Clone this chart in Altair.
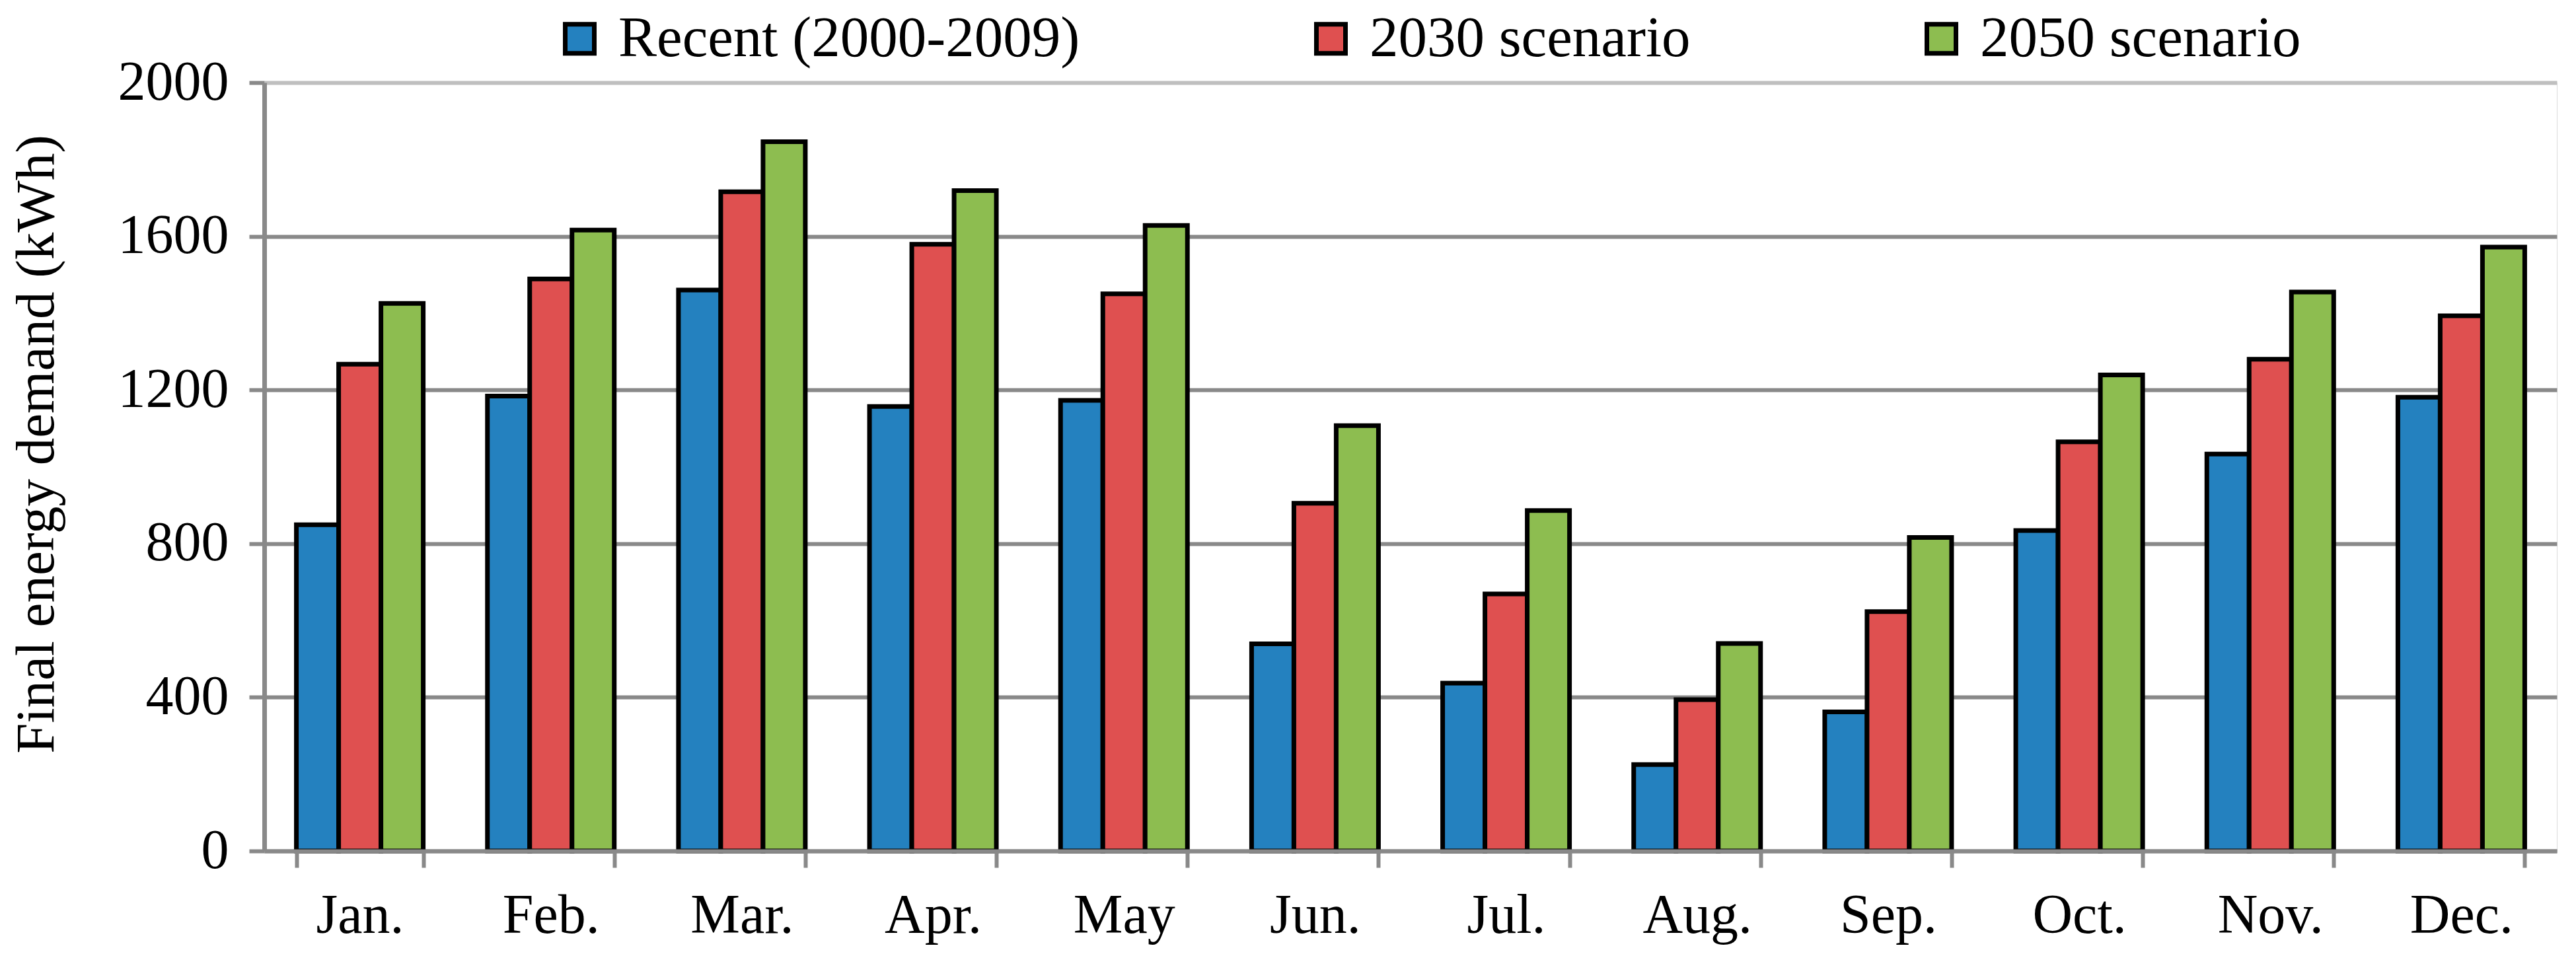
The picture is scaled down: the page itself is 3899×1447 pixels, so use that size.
import altair as alt
import pandas as pd

months = ["Jan.", "Feb.", "Mar.", "Apr.", "May", "Jun.", "Jul.", "Aug.", "Sep.", "Oct.", "Nov.", "Dec."]
series_names = ["Recent (2000-2009)", "2030 scenario", "2050 scenario"]
series_colors = ["#2481BF", "#DF5050", "#8DBD50"]

recent = [849, 1184, 1460, 1157, 1173, 539, 437, 225, 362, 834, 1033, 1181]
s2030 = [1267, 1489, 1716, 1579, 1450, 905, 669, 394, 623, 1065, 1280, 1393]
s2050 = [1425, 1616, 1846, 1719, 1628, 1107, 886, 540, 816, 1239, 1455, 1572]

y_ticks = [0, 400, 800, 1200, 1600, 2000]

rows = []
for name, vals in zip(series_names, [recent, s2030, s2050]):
    for m, v in zip(months, vals):
        rows.append({"month": m, "series": name, "value": v})
df = pd.DataFrame(rows)

FONT = "Liberation Serif"
GRAY = "#898989"

chart = alt.Chart(df).mark_bar(stroke="black", strokeWidth=7).encode(
    x=alt.X(
        "month:N",
        sort=months,
        scale=alt.Scale(paddingInner=0.336, paddingOuter=0.168),
        axis=alt.Axis(
            title=None,
            tickBand="extent",
            labelAngle=0,
            labelFont=FONT,
            labelFontSize=84,
            labelColor="black",
            labelPadding=32,
            tickSize=25,
            tickWidth=6,
            tickColor=GRAY,
            domainColor=GRAY,
            domainWidth=6,
            grid=False,
            zindex=1,
        ),
    ),
    xOffset=alt.XOffset("series:N", sort=series_names,
                        scale=alt.Scale(paddingInner=0, paddingOuter=0)),
    y=alt.Y(
        "value:Q",
        scale=alt.Scale(domain=[0, 2000], nice=False),
        axis=alt.Axis(
            title="Final energy demand (kWh)",
            values=y_ticks,
            format="d",
            labelFont=FONT,
            labelFontSize=84,
            labelColor="black",
            labelPadding=31,
            tickSize=23,
            tickWidth=6,
            tickColor=GRAY,
            domainColor=GRAY,
            domainWidth=7,
            grid=True,
            gridWidth=6,
            gridColor={"condition": {"test": "datum.value === 2000", "value": "#BFBFBF"}, "value": GRAY},
            titleFont=FONT,
            titleFontSize=83,
            titleFontWeight="normal",
            titleColor="black",
            titleAngle=270,
            titleBaseline="alphabetic",
            titleX=-320,
            titleY=547,
            titleAlign="center",
            titleLimit=3000,
        ),
    ),
    color=alt.Color(
        "series:N",
        sort=series_names,
        scale=alt.Scale(domain=series_names, range=series_colors),
        legend=alt.Legend(
            title=None,
            orient="none",
            legendX=434,
            legendY=-110,
            direction="horizontal",
            symbolType="square",
            symbolSize=1936,
            symbolStrokeColor="black",
            symbolStrokeWidth=7,
            labelFont=FONT,
            labelFontSize=87,
            labelColor="black",
            labelOffset=15,
            columnPadding=336,
            padding=0,
            labelLimit=2000,
        ),
    ),
).properties(
    width=3470,
    height=1163,
    autosize=alt.AutoSizeParams(type="none"),
    padding={"left": 392, "top": 117, "right": 21, "bottom": 151},
).configure_view(
    stroke="#BFBFBF",
    strokeWidth=6,
).configure(background="white")

chart.save("out.html", embed_options={"renderer": "svg", "actions": False})
